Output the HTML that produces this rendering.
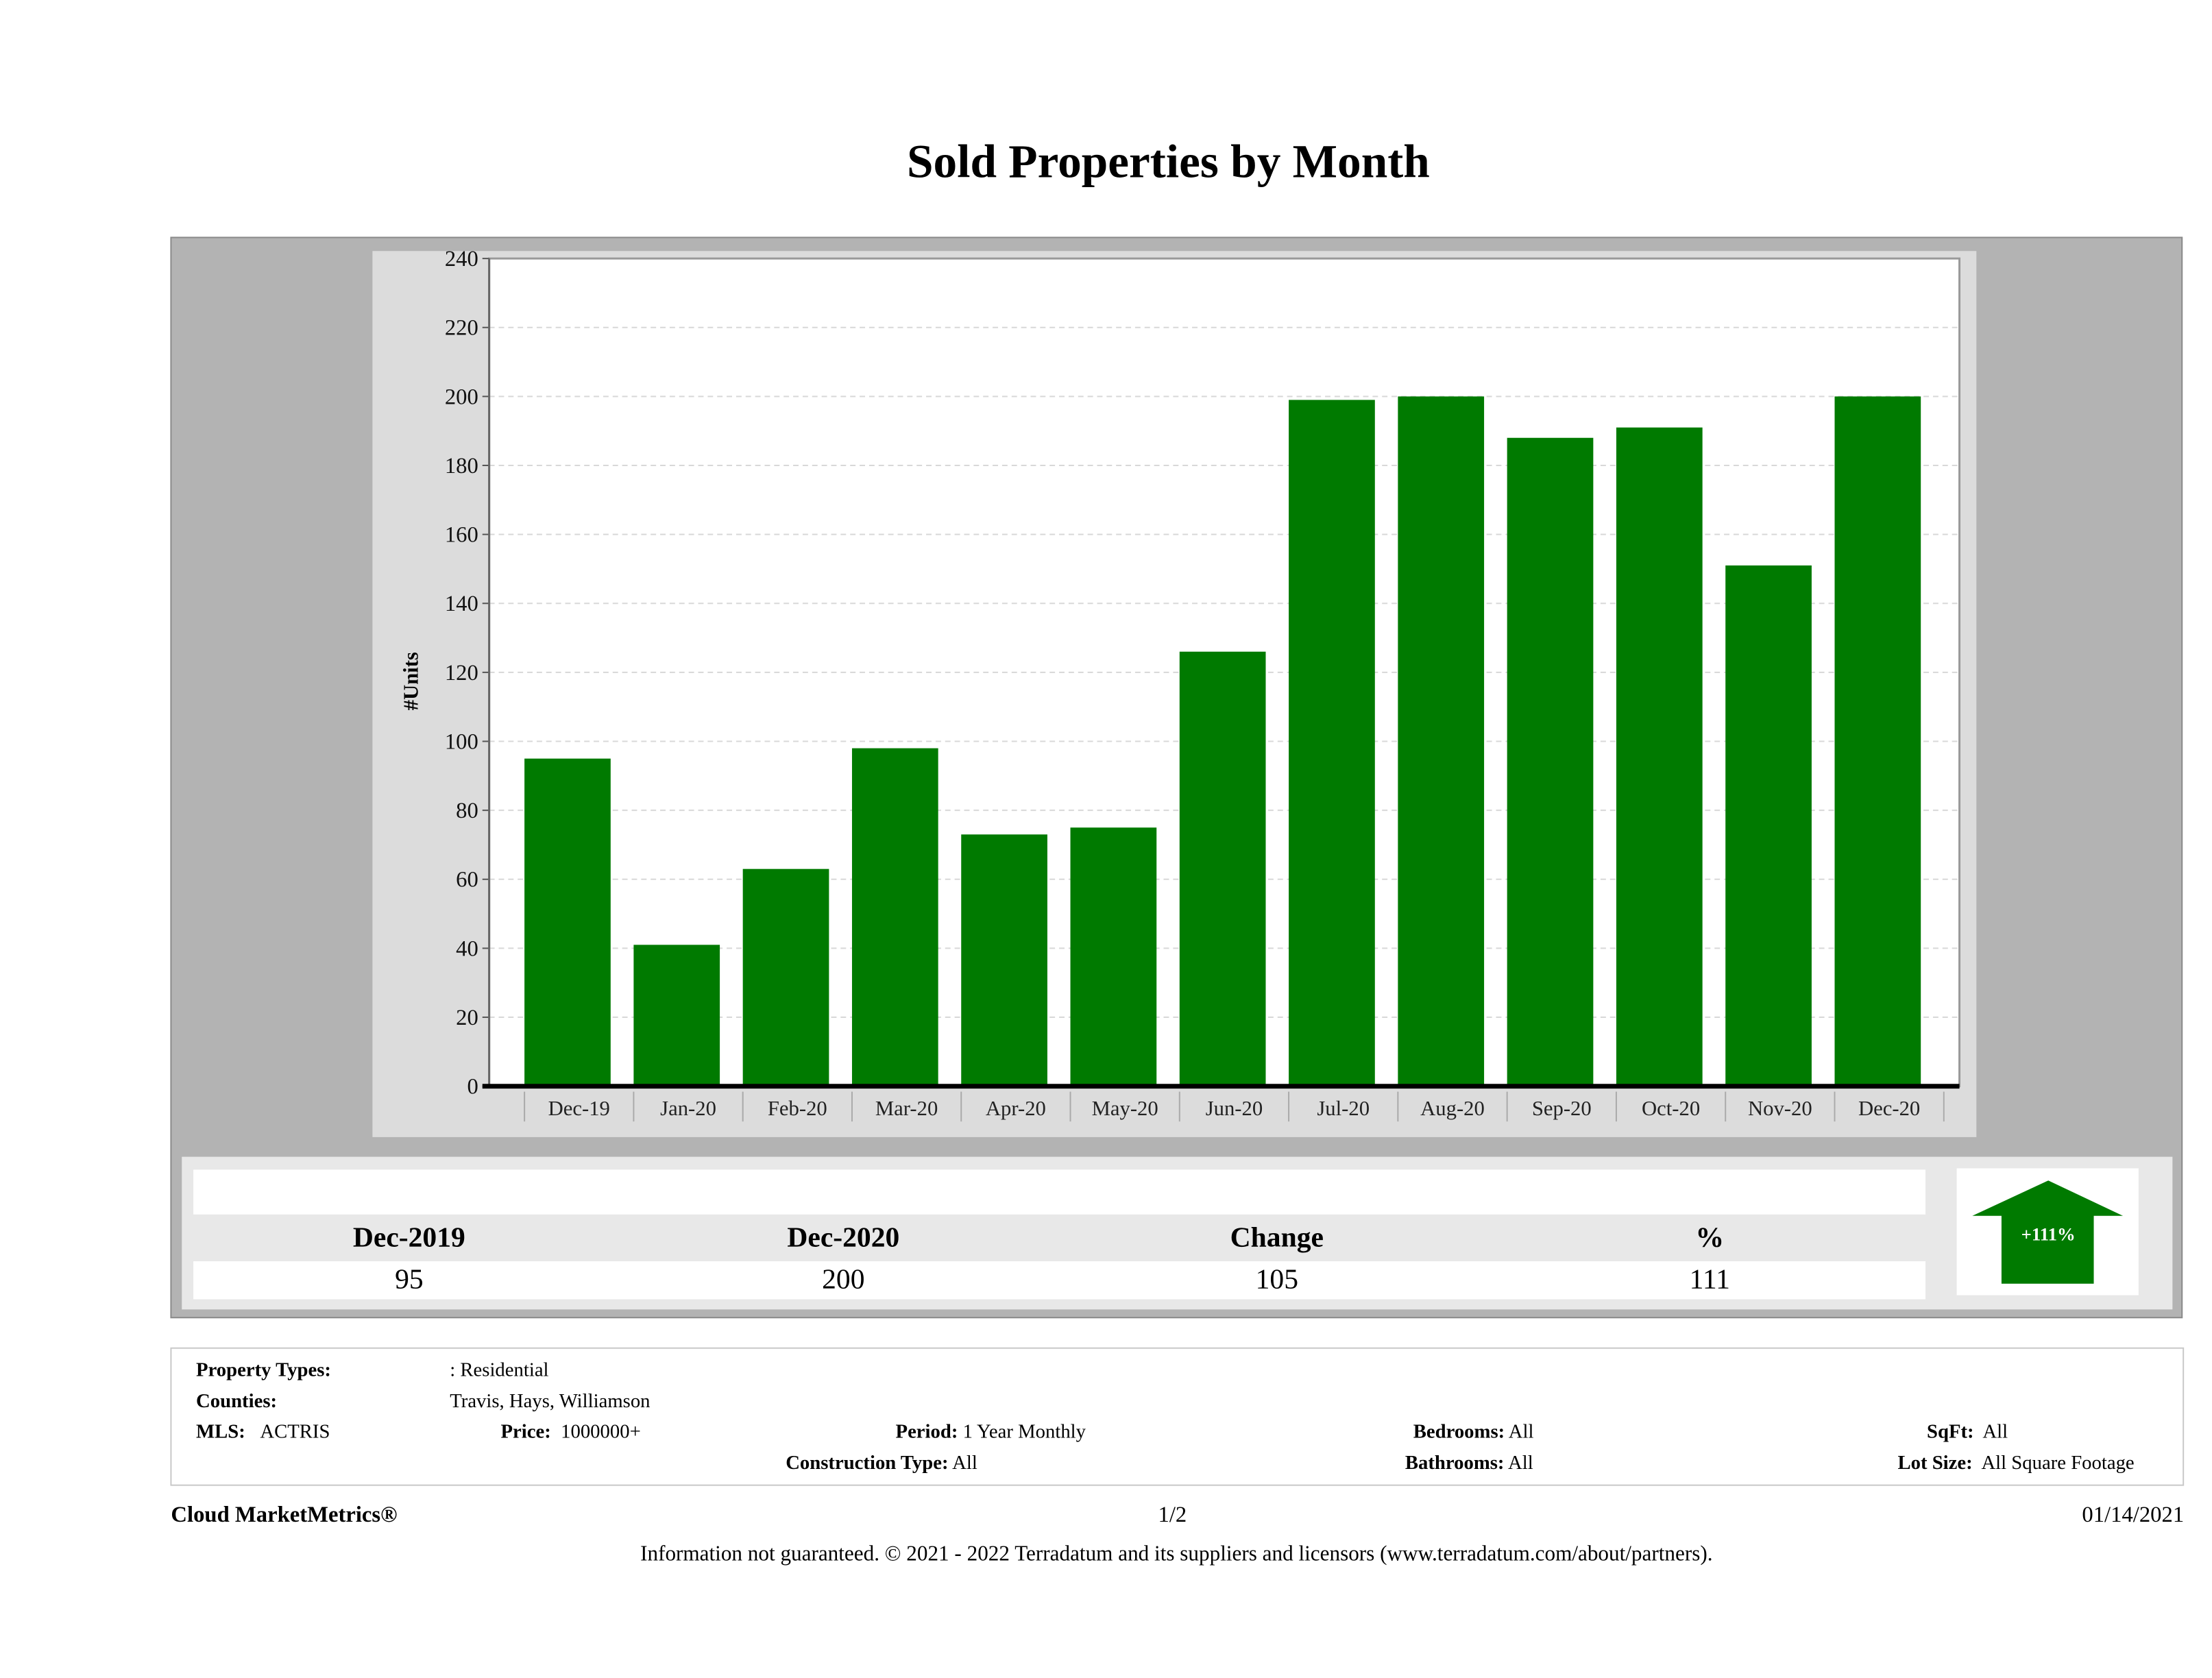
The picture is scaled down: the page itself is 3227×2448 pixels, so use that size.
<!DOCTYPE html>
<html><head><meta charset="utf-8"><style>
html,body{margin:0;padding:0;background:#fff;}
body{width:3227px;height:2448px;position:relative;overflow:hidden;font-family:"Liberation Serif",serif;color:#000;}
#wrap{position:absolute;left:0;top:0;width:3227px;height:2448px;transform:scale(0.9898);transform-origin:0 0;}
.a{position:absolute;white-space:nowrap;}
.b{font-weight:bold;}
.info{font-size:29px;line-height:34px;}
</style></head><body>
<div id="wrap">
<div class="a b" style="left:0;width:3444px;top:199px;text-align:center;font-size:70px;">Sold Properties by Month</div>

<div class="a" style="left:251px;top:349px;width:2966px;height:1594px;background:#b3b3b3;border:2px solid #8a8a8a;box-sizing:border-box;"></div>
<div class="a" style="left:549px;top:370px;width:2364px;height:1306px;background:#dcdcdc;"></div>

<svg class="a" style="left:0;top:0" width="3227" height="1700" id="chart"></svg>

<div class="a" style="left:268px;top:1705px;width:2934px;height:225px;background:#e8e8e8;"></div>
<div class="a" style="left:285px;top:1724px;width:2553px;height:66px;background:#fff;"></div>
<div class="a" style="left:285px;top:1859px;width:2553px;height:56px;background:#fff;"></div>
<div class="a b" style="left:403px;width:400px;text-align:center;top:1800px;font-size:42px;">Dec-2019</div>
<div class="a b" style="left:1043px;width:400px;text-align:center;top:1800px;font-size:42px;">Dec-2020</div>
<div class="a b" style="left:1682px;width:400px;text-align:center;top:1800px;font-size:42px;">Change</div>
<div class="a b" style="left:2320px;width:400px;text-align:center;top:1800px;font-size:42px;">%</div>
<div class="a" style="left:403px;width:400px;text-align:center;top:1862px;font-size:42px;">95</div>
<div class="a" style="left:1043px;width:400px;text-align:center;top:1862px;font-size:42px;">200</div>
<div class="a" style="left:1682px;width:400px;text-align:center;top:1862px;font-size:42px;">105</div>
<div class="a" style="left:2320px;width:400px;text-align:center;top:1862px;font-size:42px;">111</div>
<div class="a" style="left:2884px;top:1722px;width:268px;height:187px;background:#fff;"></div>
<svg class="a" style="left:2884px;top:1722px" width="268" height="187">
<polygon points="135,18 245,70 202,70 202,170 66,170 66,70 23,70" fill="#007a00"/>
<text x="135" y="106" text-anchor="middle" fill="#fff" font-weight="bold" font-size="27" font-family="Liberation Serif, serif">+111%</text>
</svg>

<div class="a" style="left:251px;top:1986px;width:2968px;height:204px;border:2px solid #c8c8c8;box-sizing:border-box;"></div>
<div class="a info b" style="left:289px;top:2002px;">Property Types:</div>
<div class="a info" style="left:663px;top:2002px;">: Residential</div>
<div class="a info b" style="left:289px;top:2048px;">Counties:</div>
<div class="a info" style="left:663px;top:2048px;">Travis, Hays, Williamson</div>
<div class="a info" style="left:289px;top:2093px;"><b>MLS:</b>&nbsp;&nbsp;&nbsp;ACTRIS</div>
<div class="a info" style="left:738px;top:2093px;"><b>Price:</b>&nbsp; 1000000+</div>
<div class="a info" style="left:1320px;top:2093px;"><b>Period:</b> 1 Year Monthly</div>
<div class="a info" style="left:2083px;top:2093px;"><b>Bedrooms:</b> All</div>
<div class="a info" style="left:2840px;top:2093px;"><b>SqFt:</b>&nbsp; All</div>
<div class="a info" style="left:1158px;top:2139px;"><b>Construction Type:</b> All</div>
<div class="a info" style="left:2071px;top:2139px;"><b>Bathrooms:</b> All</div>
<div class="a info" style="left:2797px;top:2139px;"><b>Lot Size:</b>&nbsp; All Square Footage</div>

<div class="a b" style="left:252px;top:2215px;font-size:33px;">Cloud MarketMetrics®</div>
<div class="a" style="left:1628px;width:200px;text-align:center;top:2215px;font-size:33px;">1/2</div>
<div class="a" style="left:3019px;width:200px;text-align:right;top:2215px;font-size:33px;">01/14/2021</div>
<div class="a" style="left:0;width:3468px;text-align:center;top:2272px;font-size:31.5px;">Information not guaranteed. © 2021 - 2022 Terradatum and its suppliers and licensors (www.terradatum.com/about/partners).</div>
</div>

<script>
const categories = ["Dec-19","Jan-20","Feb-20","Mar-20","Apr-20","May-20","Jun-20","Jul-20","Aug-20","Sep-20","Oct-20","Nov-20","Dec-20"];
const soldUnits = [95,41,63,98,73,75,126,199,200,188,191,151,200];
const yTicks = [0,20,40,60,80,100,120,140,160,180,200,220,240];

const svg = document.getElementById('chart');
const NS = 'http://www.w3.org/2000/svg';
const plotL = 721, plotR = 2888, plotT = 381, base = 1601;
const yMax = 240;
const bandStart = 773, bandW = (2865 - 773) / categories.length, barW = 127;
function y(v){ return base - v / yMax * (base - plotT); }
function bandX(i){ return bandStart + i * bandW; }
function mk(tag, attrs){ const e = document.createElementNS(NS, tag); for (const k in attrs) e.setAttribute(k, attrs[k]); svg.appendChild(e); return e; }

const bg = mk('rect', {x: plotL, y: plotT, width: plotR - plotL, height: base - plotT, fill: '#fff', stroke: '#999', 'stroke-width': 3});



yTicks.forEach(t => {
  if (t > 0 && t < yMax) {
    const g = mk('line', {x1: plotL, x2: plotR, y1: y(t), y2: y(t), stroke: '#d8d8d8', 'stroke-width': 2, 'stroke-dasharray': '8,6'});
    
    
  }
  const tk = mk('line', {x1: plotL - 10, x2: plotL, y1: y(t), y2: y(t), stroke: '#555', 'stroke-width': 2});
  
  
  const lb = mk('text', {x: plotL - 16, y: y(t) + 11, 'text-anchor': 'end', 'font-size': 33, 'font-family': 'Liberation Serif, serif', fill: '#111'});
  lb.textContent = t;
  
  
});

soldUnits.forEach((v, i) => {
  const r = mk('rect', {x: bandX(i), y: y(v), width: barW, height: base - y(v), fill: '#007a00'});
  
  
});

categories.forEach((c, i) => {
  const s = mk('line', {x1: bandX(i), x2: bandX(i), y1: base + 8, y2: base + 52, stroke: '#aaa', 'stroke-width': 2});
  
  
  const t = mk('text', {x: bandX(i) + bandW / 2, y: base + 43, 'text-anchor': 'middle', 'font-size': 31, 'font-family': 'Liberation Serif, serif', fill: '#222'});
  t.textContent = c;
  
  
});
const sEnd = mk('line', {x1: bandX(categories.length), x2: bandX(categories.length), y1: base + 8, y2: base + 52, stroke: '#aaa', 'stroke-width': 2});



const yAx = mk('line', {x1: plotL, x2: plotL, y1: plotT, y2: base, stroke: '#666', 'stroke-width': 3});


const xAx = mk('line', {x1: plotL - 10, x2: plotR, y1: base, y2: base, stroke: '#000', 'stroke-width': 7});



const yt = mk('text', {x: 0, y: 0, transform: 'translate(616,1004) rotate(-90)', 'text-anchor': 'middle', 'font-size': 31, 'font-weight': 'bold', 'font-family': 'Liberation Serif, serif'});
yt.textContent = '#Units';


</script>
</body></html>
